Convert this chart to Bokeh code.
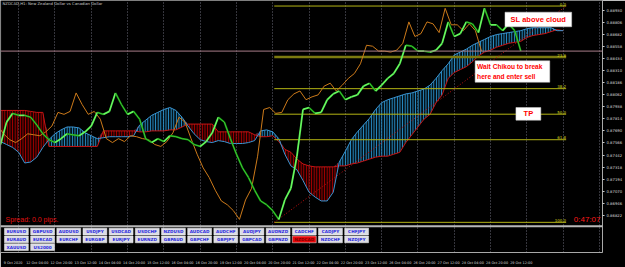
import numpy as np
from bokeh.plotting import figure
from bokeh.models import Range1d, FixedTicker, Span, Label, AllLabels, NumeralTickFormatter
from bokeh.core.properties import value
from bokeh.embed import file_html
from bokeh.resources import INLINE

# ---------------- data (NZDCAD H1) ----------------
BAR_STEP = 4          # one value every 4 hourly bars
CHIKOU_SHIFT = 26

close = [0.8755, 0.8778, 0.8787, 0.8785, 0.8785, 0.8783, 0.8775, 0.8766, 0.8760, 0.8757,
         0.8761, 0.8766, 0.8765, 0.8764, 0.8768, 0.8774, 0.8788, 0.8786, 0.8789, 0.8808,
         0.8796, 0.8786, 0.8789, 0.8781, 0.8761, 0.8757, 0.8761, 0.8758, 0.8764, 0.8763,
         0.8761, 0.8760, 0.8755, 0.8753, 0.8758, 0.8767, 0.8783, 0.8778, 0.8761, 0.8745,
         0.8731, 0.8721, 0.8708, 0.8697, 0.8693, 0.8687, 0.8678, 0.8698, 0.8710, 0.8743,
         0.8791, 0.8793, 0.8787, 0.8788, 0.8801, 0.8807, 0.8810, 0.8801, 0.8804, 0.8806,
         0.8815, 0.8818, 0.8810, 0.8816, 0.8823, 0.8828, 0.8838, 0.8857, 0.8856, 0.8851,
         0.8851, 0.8850, 0.8852, 0.8859, 0.8881, 0.8866, 0.8869, 0.8881, 0.8879, 0.8870,
         0.8895, 0.8878, 0.8878, 0.8872, 0.8879, 0.8872, 0.8851]

senkou_a = [0.8758, 0.8755, 0.8752, 0.8747, 0.8736, 0.8737, 0.8742, 0.8752, 0.8760, 0.8766,
            0.8770, 0.8773, 0.8773, 0.8772, 0.8767, 0.8764, 0.8761, 0.8762, 0.8763, 0.8763,
            0.8763, 0.8763, 0.8764, 0.8775, 0.8780, 0.8785, 0.8788, 0.8791, 0.8793, 0.8790,
            0.8783, 0.8774, 0.8766, 0.8760, 0.8758, 0.8757, 0.8759, 0.8758, 0.8756, 0.8756,
            0.8756, 0.8757, 0.8759, 0.8769, 0.8770, 0.8768, 0.8761, 0.8745, 0.8733, 0.8729,
            0.8718, 0.8706, 0.8701, 0.8697, 0.8697, 0.8706, 0.8737, 0.8748, 0.8760, 0.8768,
            0.8775, 0.8782, 0.8791, 0.8798, 0.8801, 0.8803, 0.8805, 0.8807, 0.8808, 0.8810,
            0.8812, 0.8816, 0.8823, 0.8831, 0.8838, 0.8847, 0.8850, 0.8853, 0.8857, 0.8860,
            0.8863, 0.8866, 0.8868, 0.8869, 0.8870, 0.8871, 0.8872, 0.8874, 0.8875, 0.8875,
            0.8875, 0.8875, 0.8872, 0.8872]

senkou_b = [0.8790, 0.8790, 0.8790, 0.8790, 0.8790, 0.8789, 0.8788, 0.8788, 0.8753, 0.8753,
            0.8753, 0.8753, 0.8753, 0.8753, 0.8753, 0.8753, 0.8753, 0.8769, 0.8769, 0.8769,
            0.8769, 0.8769, 0.8769, 0.8768, 0.8768, 0.8769, 0.8769, 0.8769, 0.8770, 0.8770,
            0.8773, 0.8776, 0.8776, 0.8776, 0.8776, 0.8776, 0.8768, 0.8768, 0.8768, 0.8768,
            0.8768, 0.8768, 0.8765, 0.8763, 0.8763, 0.8764, 0.8758, 0.8750, 0.8747, 0.8740,
            0.8735, 0.8733, 0.8732, 0.8732, 0.8732, 0.8732, 0.8733, 0.8733, 0.8735, 0.8736,
            0.8738, 0.8740, 0.8742, 0.8743, 0.8743, 0.8745, 0.8747, 0.8757, 0.8765, 0.8773,
            0.8781, 0.8786, 0.8798, 0.8806, 0.8823, 0.8829, 0.8832, 0.8835, 0.8840, 0.8846,
            0.8850, 0.8852, 0.8855, 0.8857, 0.8859, 0.8860, 0.8861, 0.8865, 0.8867, 0.8868,
            0.8869, 0.8871, 0.8873, 0.8872]

current_price = 0.88510
current_label = "0.88510"

fib_high = 0.88973
fib_low = 0.86750
fib_start_bar = 181
fib_end_bar = 374
fib_levels = [0.0, 23.6, 38.2, 50.0, 61.8, 100.0]
fib_labels = ["0.0", "23.6", "38.2", "50.0", "61.8", "100.0"]

price_ticks = [0.88930, 0.88806, 0.88682, 0.88558, 0.88434, 0.88310, 0.88186, 0.88062,
               0.87938, 0.87814, 0.87690, 0.87566, 0.87442, 0.87318, 0.87194, 0.87070,
               0.86946, 0.86822]

time_labels = ["9 Oct 2020", "12 Oct 04:00", "12 Oct 20:00", "13 Oct 12:00", "14 Oct 04:00",
               "14 Oct 20:00", "15 Oct 12:00", "16 Oct 04:00", "16 Oct 20:00", "19 Oct 12:00",
               "20 Oct 04:00", "20 Oct 20:00", "21 Oct 12:00", "22 Oct 04:00", "22 Oct 20:00",
               "23 Oct 12:00", "26 Oct 04:00", "26 Oct 20:00", "27 Oct 12:00", "28 Oct 04:00",
               "28 Oct 20:00", "29 Oct 12:00"]
time_label_bars = [1 + 16 * k for k in range(len(time_labels))]
day_grid_bars = [12 + 24 * k for k in range(17)]

buttons_row1 = ["EURUSD", "GBPUSD", "AUDUSD", "USDJPY", "USDCAD", "USDCHF", "NZDUSD",
                "AUDCAD", "AUDCHF", "AUDJPY", "AUDNZD", "CADCHF", "CADJPY", "CHFJPY"]
buttons_row2 = ["EURAUD", "EURCAD", "EURCHF", "EURGBP", "EURJPY", "EURNZD", "GBPAUD",
                "GBPCHF", "GBPJPY", "GBPCAD", "GBPNZD", "NZDCAD", "NZDCHF", "NZDJPY"]
buttons_row3 = ["XAUUSD", "US2000"]
active_symbol = "NZDCAD"

# ---------------- layout helpers (screen px -> data) ----------------
PX_PER_BAR = 1.52
FRAME_W, FRAME_H = 605, 259
Y_TOP = 0.8903
PRICE_PER_PX = 0.0001


def bx(px):
    return px / PX_PER_BAR


def py(ypx):
    return Y_TOP - ypx * PRICE_PER_PX


p = figure(width=625, height=267, output_backend="svg", toolbar_location=None,
           x_range=Range1d(0, bx(FRAME_W)), y_range=Range1d(py(FRAME_H), py(0)),
           y_axis_location="right", min_border_left=0, min_border_top=0,
           min_border_right=20, min_border_bottom=8)
p.background_fill_color = "#000000"
p.border_fill_color = "#000000"
p.outline_line_color = None

# grid
p.ygrid.visible = False
p.xgrid.ticker = FixedTicker(ticks=day_grid_bars)
p.xgrid.grid_line_color = "#6a6a78"
p.xgrid.grid_line_dash = "1 2"
p.xgrid.grid_line_width = 1

# right price axis
ya = p.yaxis[0]
ya.ticker = FixedTicker(ticks=price_ticks)
ya.formatter = NumeralTickFormatter(format="0.00000")
ya.axis_line_color = "#a8a8a8"
ya.major_tick_line_color = "#c8c8c8"
ya.major_tick_out = 2
ya.major_tick_in = 0
ya.minor_tick_line_color = None
ya.major_label_text_color = "#d8d8d8"
ya.major_label_text_font = "DejaVu Sans"
ya.major_label_text_font_size = "3.8px"
ya.major_label_standoff = 2

# bottom time axis (labels are left-anchored at the bar, so tick at label centre)
xa = p.xaxis[0]
half_label = 7.3
tick_pos = [b + half_label for b in time_label_bars]
xa.ticker = FixedTicker(ticks=tick_pos)
xa.major_label_overrides = {t: s for t, s in zip(tick_pos, time_labels)}
xa.major_label_policy = AllLabels()
xa.axis_line_color = "#a8a8a8"
xa.major_tick_line_color = None
xa.minor_tick_line_color = None
xa.major_label_text_color = "#d8d8d8"
xa.major_label_text_font = "DejaVu Sans"
xa.major_label_text_font_size = "3.4px"
xa.major_label_standoff = 2

# left edge and sub-window separator
p.add_layout(Span(location=0.05, dimension="height", line_color="#8a8a8a", line_width=1))
p.add_layout(Span(location=py(232), dimension="width", line_color="#b8b8b8", line_width=2))

# ---------------- Ichimoku cloud ----------------
A = np.array(senkou_a)
B = np.array(senkou_b)
cx = np.arange(len(A)) * BAR_STEP
top = np.maximum(A, B)
p.varea(x=cx, y1=B, y2=top, fill_color="#1e7fb8", fill_alpha=0.15,
        hatch_pattern="vertical_line", hatch_color="#2b9ad8", hatch_scale=2.6, hatch_weight=1)
p.varea(x=cx, y1=A, y2=top, fill_color="#8a0000", fill_alpha=0.2,
        hatch_pattern="vertical_line", hatch_color="#b40000", hatch_scale=2.6, hatch_weight=1)
p.line(cx, B, line_color="#c81414", line_width=1)
p.line(cx, A, line_color="#3a95d2", line_width=1)

# ---------------- Fibonacci ----------------
fib_prices = [fib_high - lv / 100.0 * (fib_high - fib_low) for lv in fib_levels]
for lv, fp in zip(fib_levels, fib_prices):
    if lv == 23.6:
        p.segment(fib_start_bar, fp, fib_end_bar, fp, line_color="#7c7a10", line_width=2.5)
    else:
        p.segment(fib_start_bar, fp, fib_end_bar, fp, line_color="#b4b414", line_width=1)
p.text(x=[fib_end_bar] * len(fib_prices), y=[fp + 0.5 * PRICE_PER_PX for fp in fib_prices],
       text=fib_labels, text_align="right", text_baseline="bottom",
       text_font=value("DejaVu Sans"), text_font_size="4px", text_color="#d0d020")
p.line([fib_start_bar, fib_end_bar], [fib_low, fib_high], line_color="#c81010",
       line_dash="1 2", line_width=1)

# current bid line
p.add_layout(Span(location=current_price, dimension="width", line_color="#a87c88", line_width=1))

# ---------------- Chikou span ----------------
bars = np.arange(len(close)) * BAR_STEP
p.line(bars - CHIKOU_SHIFT, close, line_color="#cc7a1a", line_width=1)

# ---------------- price ----------------
c = np.array(close)
up = c[1:] >= c[:-1]
seg_colors = ["#4cf04c" if u else "#0aa00a" for u in up]
p.segment(x0=bars[:-1], y0=c[:-1], x1=bars[1:], y1=c[1:], line_color=seg_colors, line_width=1.8)
p.line(bars, close, line_color="#c8ffa0", line_width=0.5, line_alpha=0.6)

# ---------------- texts ----------------
p.text(x=[bx(2)], y=[py(1)], text=["NZDCAD,H1: New Zealand Dollar vs Canadian Dollar"],
       text_baseline="top", text_font=value("DejaVu Sans"), text_font_size="3.8px",
       text_color="#c8c8c8")
p.text(x=[bx(5)], y=[py(229)], text=["Spread: 0.0 pips."], text_baseline="bottom",
       text_font=value("Liberation Sans"), text_font_size="7px", text_color="#e01010")
p.text(x=[bx(603)], y=[py(230)], text=["0:47:07"], text_baseline="bottom", text_align="right",
       text_font=value("Liberation Sans"), text_font_size="8px", text_color="#ff1a1a")

# annotation boxes
boxes = [(507, 574, 12, 27), (477, 552, 62, 84), (518, 543, 110, 123)]
for l, r, t, b in boxes:
    p.quad(left=bx(l), right=bx(r), top=py(t), bottom=py(b), fill_color="#ffffff",
           line_color="#d0d0d0", line_width=0.5)
note_font = dict(text_font=value("Liberation Sans"), text_font_style="bold",
                 text_color="#ff0000")
p.text(x=[bx(540.5)], y=[py(19.5)], text=["SL above cloud"], text_align="center",
       text_baseline="middle", text_font_size="7.5px", **note_font)
p.text(x=[bx(479)], y=[py(68)], text=["Wait Chikou to break"], text_align="left",
       text_baseline="middle", text_font_size="6.6px", **note_font)
p.text(x=[bx(479)], y=[py(78)], text=["here and enter sell"], text_align="left",
       text_baseline="middle", text_font_size="6.6px", **note_font)
p.text(x=[bx(530.5)], y=[py(116.5)], text=["TP"], text_align="center",
       text_baseline="middle", text_font_size="7.5px", **note_font)

# symbol buttons
rows = [(buttons_row1, 234, 241), (buttons_row2, 242, 249), (buttons_row3, 250, 257)]
for names, t, b in rows:
    for i, name in enumerate(names):
        l = 4 + 26.3 * i
        active = name == active_symbol
        p.quad(left=bx(l), right=bx(l + 24), top=py(t), bottom=py(b),
               fill_color="#e8080a" if active else "#dcdce4", line_color="#f4f4f4",
               line_width=0.5)
        p.text(x=[bx(l + 12)], y=[py((t + b) / 2)], text=[name], text_align="center",
               text_baseline="middle", text_font=value("DejaVu Sans"), text_font_style="bold",
               text_font_size="4.2px", text_color="#7a0000" if active else "#2a2ae0")

# price label on the axis
p.add_layout(Label(x=bx(606), y=current_price, text=current_label, text_baseline="middle",
                   text_font="DejaVu Sans", text_font_size="3.8px", text_color="#000000",
                   background_fill_color="#d0d0d0", border_line_color="#b06060"))

open("out.html", "w").write(file_html(p, INLINE))
